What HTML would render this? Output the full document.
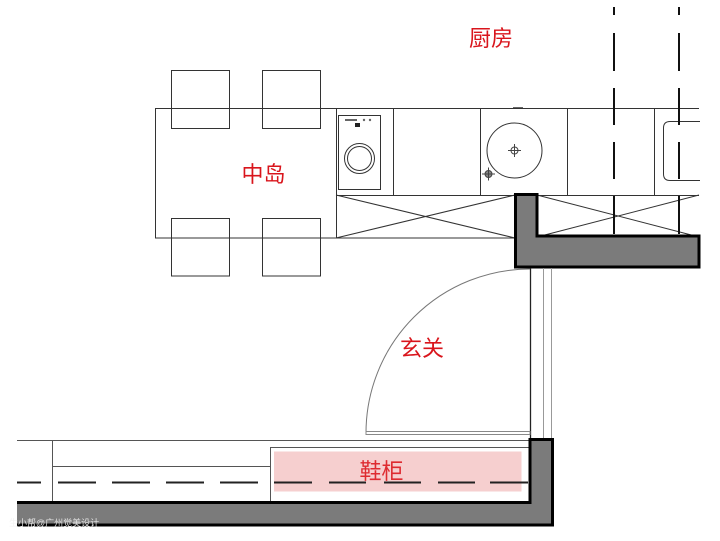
<!DOCTYPE html>
<html><head><meta charset="utf-8"><style>
html,body{margin:0;padding:0;background:#fff;}
svg{display:block;}
text{font-family:"Liberation Sans","Noto Sans CJK SC",sans-serif;}
</style></head><body>
<svg width="720" height="541" viewBox="0 0 720 541" xmlns="http://www.w3.org/2000/svg">
<rect width="720" height="541" fill="#fff"/>
<g fill="none" stroke="#333" stroke-width="1">
  <!-- island table -->
  <rect x="155.5" y="108.5" width="181" height="129.5"/>
  <!-- chairs -->
  <rect x="171.5" y="70.5" width="58" height="58"/>
  <rect x="262.5" y="70.5" width="58" height="58"/>
  <rect x="171.5" y="218.5" width="58" height="57.5"/>
  <rect x="262.5" y="218.5" width="58" height="57.5"/>
  <!-- counter -->
  <line x1="336" y1="108.5" x2="699" y2="108.5"/>
  <line x1="336" y1="195.5" x2="699" y2="195.5"/>
  <line x1="336" y1="238" x2="515" y2="238"/>
  <line x1="336.5" y1="108" x2="336.5" y2="238"/>
  <line x1="393.5" y1="108" x2="393.5" y2="195"/>
  <line x1="480.5" y1="108" x2="480.5" y2="195"/>
  <line x1="567.5" y1="108" x2="567.5" y2="195"/>
  <line x1="654.5" y1="108" x2="654.5" y2="195"/>
  <!-- X lower cabinets -->
  <line x1="336" y1="195" x2="515" y2="238"/>
  <line x1="336" y1="238" x2="515" y2="195"/>
  <line x1="537" y1="195" x2="699" y2="237"/>
  <line x1="537" y1="237" x2="699" y2="195"/>
  <!-- washing machine -->
  <rect x="338.5" y="115.5" width="42" height="74"/>
  <circle cx="359.5" cy="158.5" r="15"/>
  <circle cx="359.5" cy="158.5" r="12"/>
  <!-- sink -->
  <circle cx="514.5" cy="150.5" r="27.5"/>
  <!-- right sink -->
  <path d="M700 121.5 H670 Q663.5 121.5 663.5 128 V174 Q663.5 180.5 670 180.5 H700"/>
</g>
<!-- washer details -->
<rect x="345" y="119" width="12" height="2" fill="#666"/>
<circle cx="364" cy="120" r="1.2" fill="#666"/>
<circle cx="370" cy="120" r="1.2" fill="#666"/>
<rect x="355" y="123" width="5" height="4" fill="#222"/>
<!-- crosshairs -->
<g stroke="#444" stroke-width="1" fill="none">
  <circle cx="514.5" cy="150.5" r="3.5"/>
  <line x1="508" y1="150.5" x2="521" y2="150.5"/>
  <line x1="514.5" y1="144" x2="514.5" y2="157"/>
  <circle cx="488.5" cy="174" r="3.5" fill="#888"/>
  <line x1="482" y1="174" x2="495" y2="174"/>
  <line x1="488.5" y1="167.5" x2="488.5" y2="180.5"/>
</g>
<line x1="513" y1="108" x2="523" y2="108" stroke="#333" stroke-width="1.5"/>
<!-- vertical dashed lines -->
<g stroke="#111" stroke-width="2">
  <line x1="614" y1="7" x2="614" y2="235" stroke-dasharray="8,18,38,17,37,17,37,17,38,17,40"/>
  <line x1="679" y1="7" x2="679" y2="235" stroke-dasharray="8,18,38,17,37,17,37,17,38,17,40"/>
</g>
<!-- kitchen wall -->
<path d="M515.5 194.5 H537 V236 H699 V267 H515.5 Z" fill="#7b7b7b" stroke="#000" stroke-width="3"/>
<!-- door frame -->
<g fill="none">
  <line x1="530.5" y1="268" x2="530.5" y2="440" stroke="#222" stroke-width="1.3"/>
  <line x1="543.5" y1="268" x2="543.5" y2="440" stroke="#999" stroke-width="1"/>
  <line x1="551.5" y1="268" x2="551.5" y2="440" stroke="#999" stroke-width="1"/>
  <path d="M530 269 A164 164 0 0 0 366 433" stroke="#777" stroke-width="1"/>
  <rect x="366" y="431.5" width="164" height="3" stroke="#888" stroke-width="1"/>
</g>
<!-- shoe cabinet area -->
<rect x="274" y="451.5" width="247.5" height="40" fill="#f6cfcf"/>
<g fill="none" stroke="#555" stroke-width="1">
  <line x1="17" y1="440.5" x2="530" y2="440.5"/>
  <line x1="52.5" y1="441" x2="52.5" y2="502"/>
  <line x1="52" y1="466.5" x2="270" y2="466.5"/>
  <rect x="270.5" y="447.5" width="260" height="55"/>
</g>
<!-- horizontal dashed line -->
<line x1="17" y1="482.5" x2="530" y2="482.5" stroke="#222" stroke-width="2" stroke-dasharray="24,17,38,16,38,16,38,16,38,16,38,17,37,18,37,17,37,15,38"/>
<!-- bottom wall -->
<path d="M17 502.5 H530 V439.5 H552.5 V525 H17" fill="#7b7b7b" stroke="#000" stroke-width="3"/>
<rect x="17" y="504" width="511" height="19.5" fill="#7b7b7b"/>
<!-- labels -->
<g fill="#d9151c" font-size="22">
  <text x="491" y="46" text-anchor="middle">厨房</text>
  <text x="263.5" y="182" text-anchor="middle">中岛</text>
  <text x="422" y="356" text-anchor="middle">玄关</text>
  <text x="381.5" y="479" text-anchor="middle" fill="#de2b30">鞋柜</text>
</g>
<text x="9" y="526" font-size="9" fill="#f2f2f2" opacity="0.9">生小帮@广州觉美设计</text>
</svg>
</body></html>
